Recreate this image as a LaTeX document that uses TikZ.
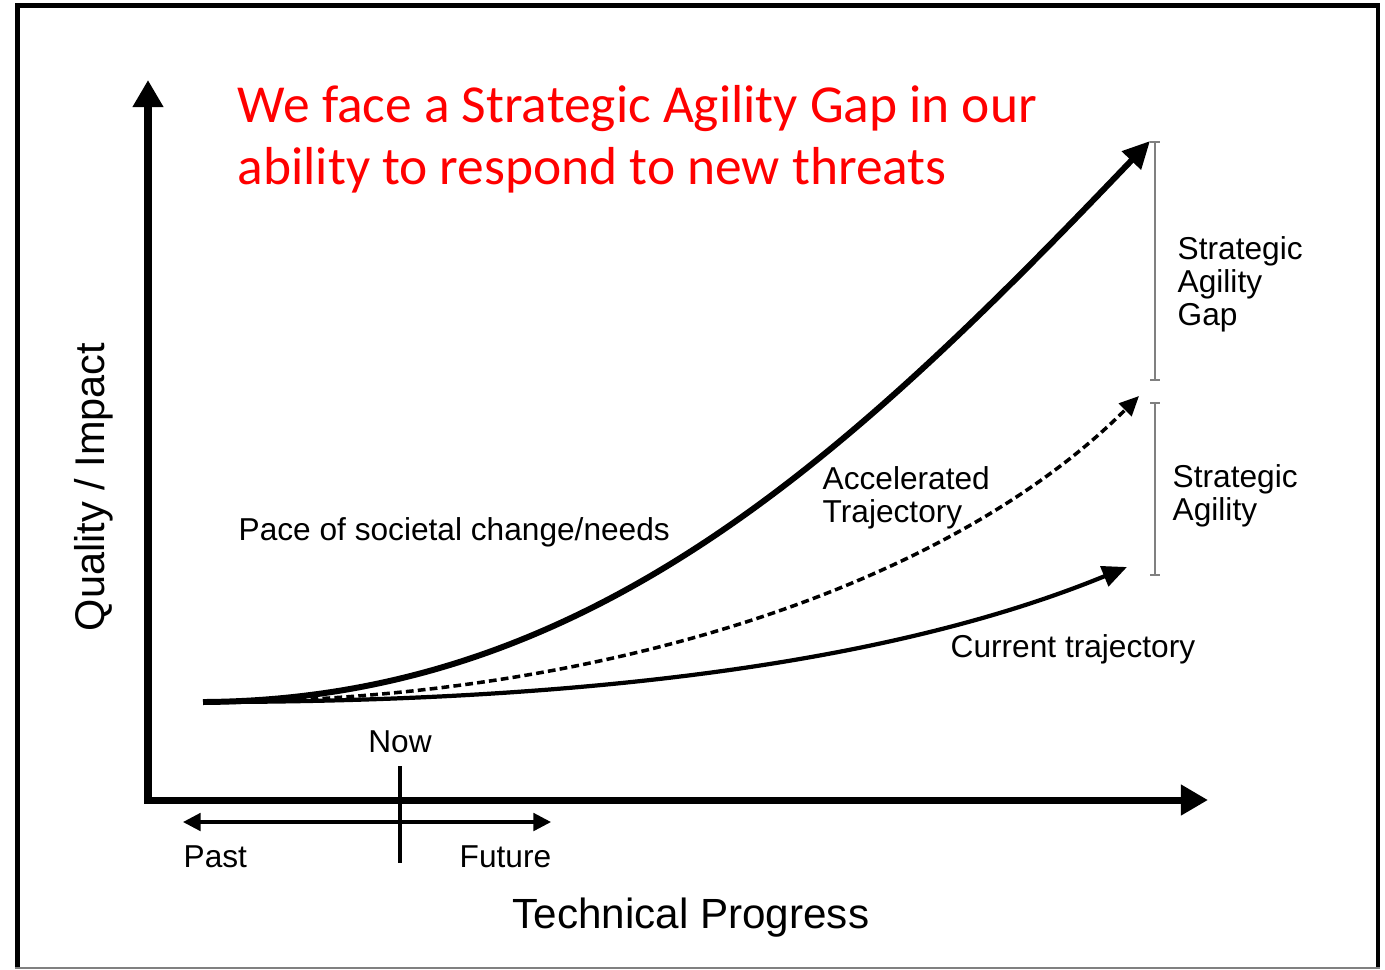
\documentclass[tikz,border=0pt]{standalone}
\usepackage{fontspec}
\setmainfont{Liberation Sans}
\newfontfamily\titlefont{Carlito}
\usetikzlibrary{arrows.meta}
\begin{document}
\begin{tikzpicture}[x=0.01cm, y=-0.01cm,
  lab/.style={inner sep=0pt, align=left, font=\fontsize{9}{9.4}\selectfont},
  bigtip/.style={-{Triangle[length=7.7pt, width=7.2pt]}},
  gapbar/.style={draw=gray, line width=0.45pt, {Bar[width=2.8pt]}-{Bar[width=2.8pt]}}]
\pgfmathsetlengthmacro\axiswidth{2pt};
\definecolor{titlered}{rgb}{1,0,0}
\useasboundingbox (0,0) rectangle (1385,969);
\draw[line width=1.4pt] (17.5,967) -- (17.5,5.5) -- (1378,5.5) -- (1378,967);
\draw[gray, line width=0.4pt] (15,968) -- (1380,968);
\coordinate (origin) at (148,800);
\coordinate (ytip) at (148,80);
\coordinate (xtip) at (1208,800);
\draw[line width=\axiswidth, {Triangle[length=7.7pt, width=8.3pt]}-{Triangle[length=7.7pt, width=8.3pt]}] (ytip) -- (origin) -- (xtip);
\node[inner sep=0pt, anchor=north west, align=left, text=titlered, font=\titlefont\fontsize{15.2}{17.4}\selectfont] (title) at (237,85) {We face a Strategic Agility Gap in our\\ability to respond to new threats};
\node[inner sep=0pt, anchor=base, rotate=90, font=\fontsize{11.8}{14}\selectfont] (ylabel) at (104,487) {Quality / Impact};
\node[inner sep=0pt, anchor=base west, font=\fontsize{12}{14}\selectfont] (xlabel) at (512,928) {Technical Progress};
\coordinate (start) at (203,702);
\coordinate (paceend) at (1150,141);
\coordinate (accend) at (1139,396);
\coordinate (curend) at (1127,567);
\draw[line width=1.7pt, bigtip] (start) .. controls (590,700) and (850,455) .. (paceend);
\draw[line width=1pt, dash pattern=on 2.2pt off 1.2pt, -{Triangle[length=5.6pt, width=5pt]}] (start) .. controls (600,702) and (950,585) .. (accend);
\draw[line width=1.2pt, -{Triangle[length=7pt, width=6pt]}] (start) .. controls (600,702) and (900,660) .. (curend);
\node[lab, anchor=base west] (pace) at (238,540) {Pace of societal change/needs};
\node[lab, anchor=north west] (acc) at (822,466) {Accelerated\\Trajectory};
\node[lab, anchor=base west] (cur) at (950,657) {Current trajectory};
\coordinate (gaptop) at (1155,141);
\coordinate (gapbot) at (1155,381);
\coordinate (agtop) at (1155,402);
\coordinate (agbot) at (1155,576);
\draw[gapbar] (gaptop) -- (gapbot);
\draw[gapbar] (agtop) -- (agbot);
\node[lab, anchor=north west] (gaplab) at (1177,236) {Strategic\\Agility\\Gap};
\node[lab, anchor=north west] (aglab) at (1172,464) {Strategic\\Agility};
\coordinate (past) at (183,822);
\coordinate (future) at (551,822);
\coordinate (nowtop) at (400,766);
\coordinate (nowbot) at (400,863);
\draw[line width=0.9pt, {Triangle[length=5pt, width=5pt]}-{Triangle[length=5pt, width=5pt]}] (past) -- (future);
\draw[line width=0.9pt] (nowtop) -- (nowbot);
\node[lab, anchor=base] (now) at (400,752) {Now};
\node[lab, anchor=base west] (pastlab) at (183,867) {Past};
\node[lab, anchor=base west] (futlab) at (459,867) {Future};
\end{tikzpicture}
\end{document}
